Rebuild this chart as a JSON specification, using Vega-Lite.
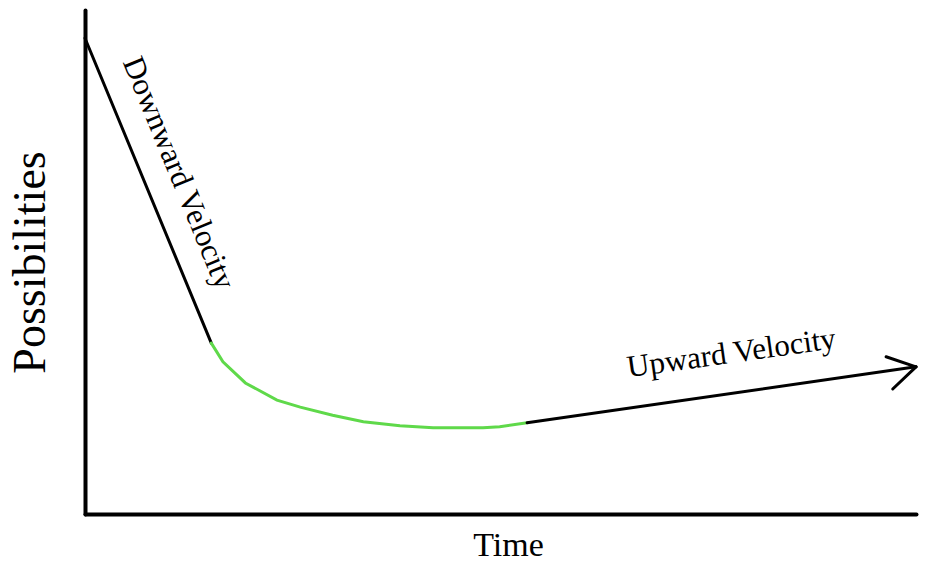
{
  "$schema": "https://vega.github.io/schema/vega-lite/v6.json",
  "width": 831,
  "height": 504,
  "autosize": "none",
  "padding": {"left": 85, "top": 10, "right": 18, "bottom": 60},
  "background": "white",
  "config": {"view": {"stroke": null}},
  "datasets": {
    "lines": [
      {"seg": "down", "ord": 1, "t": 0, "p": 94.4},
      {"seg": "down", "ord": 2, "t": 15.2, "p": 33.9},
      {"seg": "curve", "ord": 1, "t": 15.2, "p": 33.9},
      {"seg": "curve", "ord": 2, "t": 16.6, "p": 30.2},
      {"seg": "curve", "ord": 3, "t": 19.3, "p": 26.0},
      {"seg": "curve", "ord": 4, "t": 23.1, "p": 22.6},
      {"seg": "curve", "ord": 5, "t": 25.9, "p": 21.2},
      {"seg": "curve", "ord": 6, "t": 29.8, "p": 19.6},
      {"seg": "curve", "ord": 7, "t": 33.5, "p": 18.3},
      {"seg": "curve", "ord": 8, "t": 37.9, "p": 17.5},
      {"seg": "curve", "ord": 9, "t": 41.9, "p": 17.1},
      {"seg": "curve", "ord": 10, "t": 47.9, "p": 17.1},
      {"seg": "curve", "ord": 11, "t": 49.9, "p": 17.3},
      {"seg": "curve", "ord": 12, "t": 53.2, "p": 18.1},
      {"seg": "up", "ord": 1, "t": 53.2, "p": 18.1},
      {"seg": "up", "ord": 2, "t": 100, "p": 29.2},
      {"seg": "head1", "ord": 1, "t": 96.4, "p": 31.2},
      {"seg": "head1", "ord": 2, "t": 100, "p": 29.2},
      {"seg": "head2", "ord": 1, "t": 97.2, "p": 24.8},
      {"seg": "head2", "ord": 2, "t": 100, "p": 29.2}
    ],
    "labels": [
      {"label": "Downward Velocity", "t": 11.2, "p": 67.6, "kind": "down"},
      {"label": "Upward Velocity", "t": 77.8, "p": 31.8, "kind": "up"}
    ]
  },
  "layer": [
    {
      "data": {"name": "lines"},
      "mark": {"type": "line", "strokeWidth": 3, "strokeCap": "round", "clip": false},
      "encoding": {
        "x": {"field": "t", "type": "quantitative", "scale": {"domain": [0, 100], "nice": false, "zero": false},
          "axis": {"title": "Time", "domain": true, "domainColor": "black", "domainWidth": 4, "domainCap": "round", "ticks": false, "labels": false, "grid": false,
            "titleFont": "Liberation Serif", "titleFontSize": 34, "titleFontWeight": "normal", "titleColor": "black", "titlePadding": 14, "titleX": 423}},
        "y": {"field": "p", "type": "quantitative", "scale": {"domain": [0, 100], "nice": false, "zero": false},
          "axis": {"title": "Possibilities", "domain": true, "domainColor": "black", "domainWidth": 4, "domainCap": "round", "ticks": false, "labels": false, "grid": false,
            "titleFont": "Liberation Serif", "titleFontSize": 46, "titleFontWeight": "normal", "titleColor": "black", "titlePadding": 31}},
        "detail": {"field": "seg"},
        "order": {"field": "ord", "type": "quantitative"},
        "color": {"field": "seg", "type": "nominal", "legend": null,
          "scale": {"domain": ["down", "curve", "up", "head1", "head2"], "range": ["black", "#5fd94a", "black", "black", "black"]}}
      }
    },
    {
      "data": {"name": "labels"},
      "transform": [{"filter": "datum.kind == 'down'"}],
      "mark": {"type": "text", "font": "Liberation Serif", "fontSize": 31, "angle": 67.6, "align": "center", "baseline": "middle", "color": "black"},
      "encoding": {
        "x": {"field": "t", "type": "quantitative"},
        "y": {"field": "p", "type": "quantitative"},
        "text": {"field": "label"}
      }
    },
    {
      "data": {"name": "labels"},
      "transform": [{"filter": "datum.kind == 'up'"}],
      "mark": {"type": "text", "font": "Liberation Serif", "fontSize": 31, "angle": -8, "align": "center", "baseline": "middle", "color": "black"},
      "encoding": {
        "x": {"field": "t", "type": "quantitative"},
        "y": {"field": "p", "type": "quantitative"},
        "text": {"field": "label"}
      }
    }
  ]
}
